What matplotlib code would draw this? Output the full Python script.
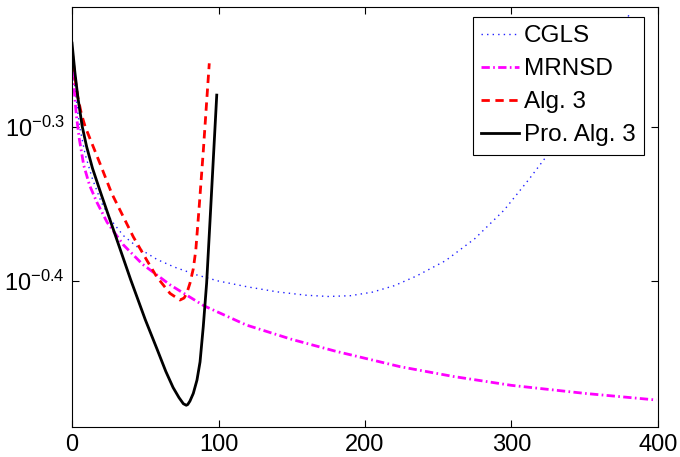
import numpy as np
import matplotlib as mpl
import matplotlib.pyplot as plt

mpl.use('Agg')

plt.rcParams['font.family'] = ['Liberation Sans', 'DejaVu Sans']
plt.rcParams['mathtext.fontset'] = 'custom'
plt.rcParams['mathtext.rm'] = 'Liberation Sans'
plt.rcParams['mathtext.it'] = 'Liberation Sans:italic'
plt.rcParams['mathtext.bf'] = 'Liberation Sans:bold'

# values, y given as log10 of the error
cgls_x = [0, 2, 5, 9, 14, 20, 27, 35, 46, 58, 70, 85, 100, 120, 140, 160, 175,
          190, 205, 220, 235, 255, 275, 295, 312, 328, 345, 362, 381]
cgls_logy = [-0.255, -0.275, -0.299, -0.318, -0.334, -0.349, -0.361, -0.3705,
             -0.379, -0.386, -0.391, -0.396, -0.400, -0.4038, -0.407, -0.4092,
             -0.4100, -0.4095, -0.4072, -0.4030, -0.3968, -0.3868, -0.3725,
             -0.3540, -0.3340, -0.3140, -0.2900, -0.2620, -0.2260]

mrnsd_x = [0, 1.5, 3, 5, 8, 12, 17, 24, 35, 48, 67, 90, 119, 150, 180, 224,
           260, 300, 350, 399]
mrnsd_logy = [-0.2535, -0.276, -0.293, -0.308, -0.325, -0.338, -0.349, -0.362,
              -0.3765, -0.389, -0.4025, -0.416, -0.4285, -0.4378, -0.4455,
              -0.4555, -0.4618, -0.4676, -0.4728, -0.4771]

alg3_x = [0, 2, 4, 6.5, 9, 19, 27.1, 35, 41.8, 51, 57.8, 66.9, 73.7, 76.5,
          78.3, 80.5, 82.8, 84.5, 86.8, 89.6, 93.7]
alg3_logy = [-0.25, -0.268, -0.281, -0.292, -0.300, -0.3236, -0.3432, -0.3583,
             -0.3713, -0.3864, -0.3972, -0.408, -0.4123, -0.411, -0.408, -0.4015,
             -0.392, -0.380, -0.352, -0.316, -0.2589]

pro_x = [0, 2, 4, 7, 10, 14, 20, 28, 40, 50, 58, 64, 69, 73, 76, 78, 79, 80.5,
         82.8, 85.3, 87.4, 89.6, 91.9, 94.2, 96.5, 98.8]
pro_logy = [-0.2458, -0.265, -0.281, -0.300, -0.313, -0.327, -0.344, -0.366,
            -0.399, -0.425, -0.444, -0.4585, -0.4690, -0.4755, -0.4795, -0.4805,
            -0.4800, -0.4778, -0.4728, -0.4642, -0.4524, -0.4296, -0.4013,
            -0.3612, -0.3203, -0.2795]

labels = ['CGLS', 'MRNSD', 'Alg. 3', 'Pro. Alg. 3']
xticks = [0, 100, 200, 300, 400]
yexp = [-0.4, -0.3]

fig = plt.figure(figsize=(6.8, 4.57), dpi=100)
ax = fig.add_axes([0.1059, 0.0656, 0.8617, 0.9191])

ax.plot(cgls_x, 10 ** np.array(cgls_logy), color='#2020ff', lw=1.0,
        dashes=(1, 3), label=labels[0])
ax.plot(mrnsd_x, 10 ** np.array(mrnsd_logy), color='#ff00ff', lw=2.0,
        dashes=(3, 1.2, 0.6, 1.2), label=labels[1])
ax.plot(alg3_x, 10 ** np.array(alg3_logy), color='#ff0000', lw=2.0,
        dashes=(3, 2), label=labels[2])
ax.plot(pro_x, 10 ** np.array(pro_logy), color='k', lw=2.0, label=labels[3])

ax.set_yscale('log')
ax.set_xlim(0, 400)
ax.set_ylim(10 ** -0.4946, 10 ** -0.2224)
ax.set_xticks(xticks)
ax.set_xticklabels([str(t) for t in xticks])
ax.set_yticks([10 ** e for e in yexp])
ax.set_yticklabels([r'$10^{%g}$' % e for e in yexp])
ax.yaxis.set_minor_locator(mpl.ticker.NullLocator())

ax.tick_params(direction='in', length=5, width=0.8, top=True, right=True,
               labelsize=17, pad=5)
for s in ax.spines.values():
    s.set_linewidth(0.8)

leg = ax.legend(loc='upper right', bbox_to_anchor=(0.976, 0.977), borderaxespad=0,
                fontsize=17.5, fancybox=False, edgecolor='k', framealpha=1,
                handlelength=1.55, handletextpad=0.2, labelspacing=0.45,
                borderpad=0.35)
leg.get_frame().set_linewidth(0.8)

fig.savefig('out.png', dpi=100)
